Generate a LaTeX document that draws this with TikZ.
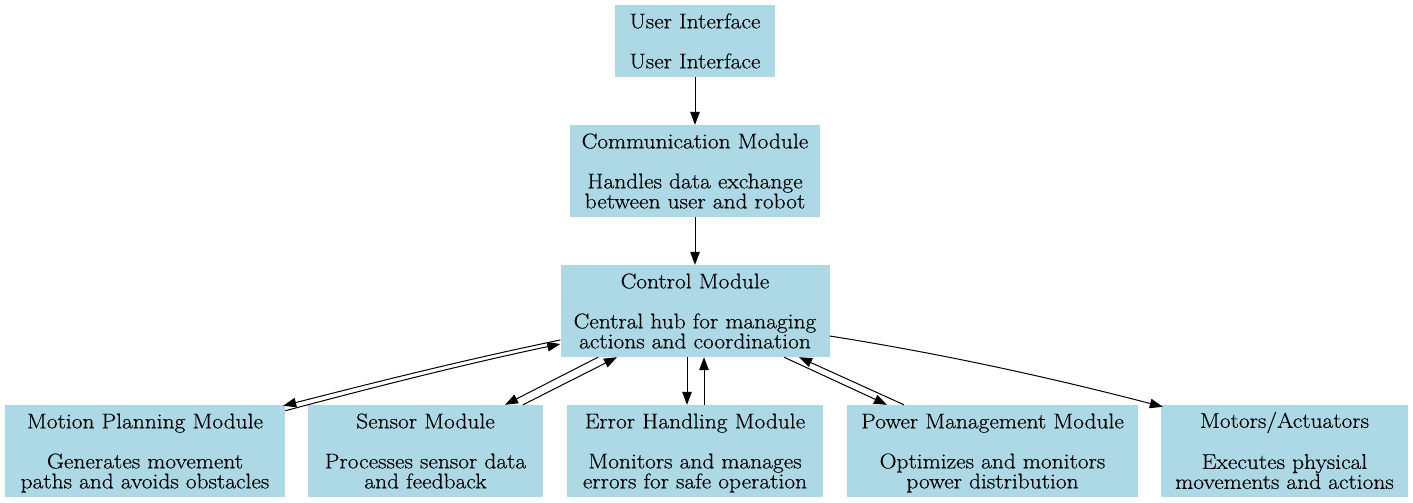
\documentclass[tikz,border=0pt]{standalone}
\usepackage{fontspec}
\setmainfont{Latin Modern Roman}[FakeStretch=1.1,FakeBold=0.4]
\usetikzlibrary{arrows.meta}
\definecolor{lblue}{HTML}{ADD8E6}
\newcommand{\topph}{\rule{0pt}{20pt}}
\newcommand{\botph}{\rule[-5.3pt]{0pt}{5.3pt}}
\begin{document}
\begin{tikzpicture}[x=1pt,y=-1pt,
  box/.style={fill=lblue,draw=none,inner sep=0pt,align=center,
    font=\fontsize{21.3}{20}\selectfont},
  conn/.style={line width=1pt,-{Triangle[length=13pt,width=9.5pt]}}]
\useasboundingbox (0,0) rectangle (1413,503);
\node[box,minimum width=160pt,minimum height=72pt] (ui) at (695,41) {\topph User Interface\\[20pt]\botph User Interface};
\node[box,minimum width=250pt,minimum height=92pt] (comm) at (695,171) {\topph Communication Module\\[20pt]Handles data exchange\\\botph between user and robot};
\node[box,minimum width=269pt,minimum height=92pt] (ctrl) at (695,311) {\topph Control Module\\[20pt]Central hub for managing\\\botph actions and coordination};
\node[box,minimum width=280pt,minimum height=92pt] (mp) at (145,451) {\topph Motion Planning Module\\[20pt]Generates movement\\\botph paths and avoids obstacles};
\node[box,minimum width=235pt,minimum height=92pt] (sens) at (425.5,451) {\topph Sensor Module\\[20pt]Processes sensor data\\\botph and feedback};
\node[box,minimum width=256pt,minimum height=92pt] (err) at (695,451) {\topph Error Handling Module\\[20pt]Monitors and manages\\\botph errors for safe operation};
\node[box,minimum width=291pt,minimum height=92pt] (pow) at (992.5,451) {\topph Power Management Module\\[20pt]Optimizes and monitors\\\botph power distribution};
\node[box,minimum width=247pt,minimum height=92pt] (mot) at (1284.5,451) {\topph Motors/Actuators\\[20pt]Executes physical\\\botph movements and actions};

\draw[conn] (ui) -- (comm);
\draw[conn] (comm) -- (ctrl);
% control <-> motion planning
\draw[conn] ([yshift=-29pt]ctrl.west) .. controls (468,359) and (376,382) .. ([xshift=-2pt,yshift=-1pt]mp.north east);
\draw[conn] ([yshift=-6pt]mp.north east) .. controls (378,386) and (470,363) .. ([yshift=-33pt]ctrl.west);
% control <-> sensor
\draw[conn] ([xshift=-97pt]ctrl.south) -- ([xshift=79.5pt]sens.north);
\draw[conn] ([xshift=97.5pt]sens.north) -- ([xshift=-78pt]ctrl.south);
% control <-> error
\draw[conn] ([xshift=-8pt]ctrl.south) -- ([xshift=-8pt]err.north);
\draw[conn] ([xshift=9pt]err.north) -- ([xshift=9pt]ctrl.south);
% control <-> power
\draw[conn] ([xshift=89pt]ctrl.south) -- ([xshift=-105.5pt]pow.north);
\draw[conn] ([xshift=-88.5pt]pow.north) -- ([xshift=104pt]ctrl.south);
% control -> motors
\draw[conn] ([yshift=-25pt]ctrl.east) .. controls (950,355) and (1060,380) .. ([xshift=2pt,yshift=-2pt]mot.north west);
\end{tikzpicture}
\end{document}
